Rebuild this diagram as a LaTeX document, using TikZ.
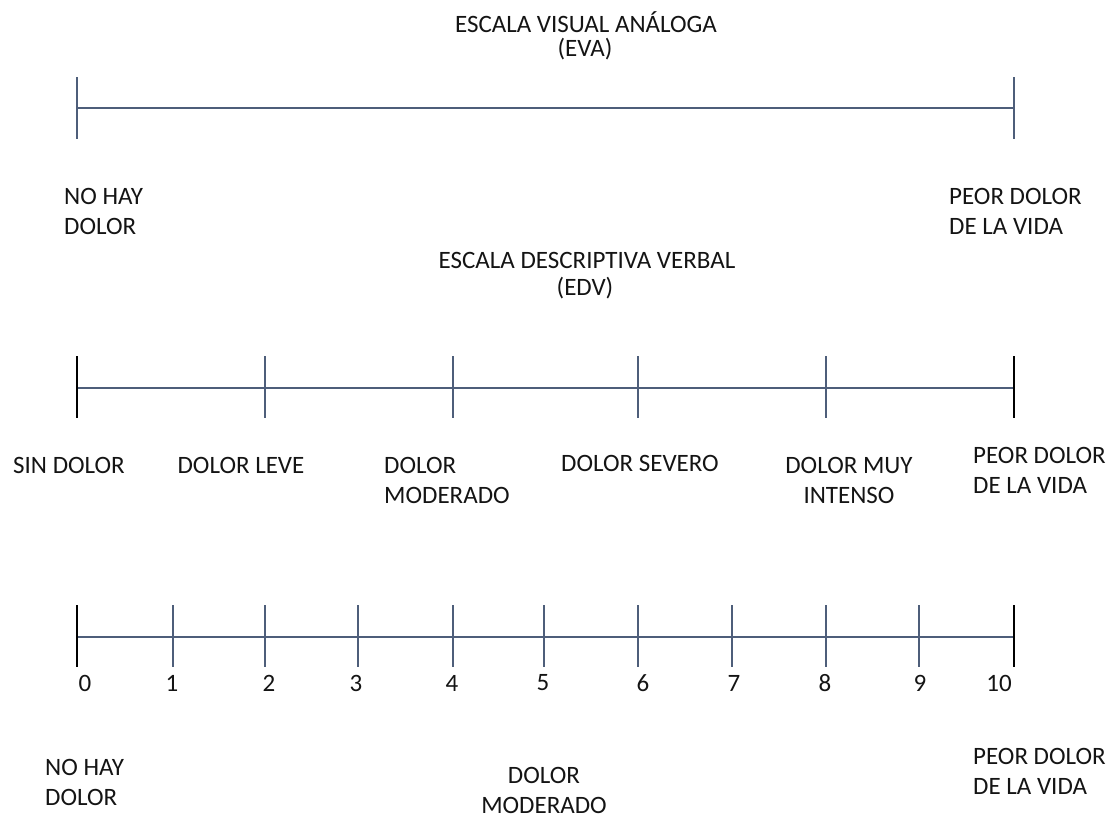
\documentclass[tikz,border=0pt]{standalone}
\usepackage{fontspec}
\setmainfont{Carlito}
\definecolor{axis}{RGB}{78,94,122}
\definecolor{txt}{RGB}{20,20,20}
\begin{document}
\begin{tikzpicture}[x=1pt,y=-1pt,
  lbl/.style={font=\fontsize{25}{30}\selectfont, text=txt, inner sep=0pt},
  axisline/.style={draw=axis, line width=1.6pt},
  tickmark/.style={draw=axis, line width=1.8pt},
  endtick/.style={draw=black, line width=1.8pt}]
\useasboundingbox (0,0) rectangle (1114,819);

% ---------- EVA ----------
\node[lbl] (t1) at (586,22) {ESCALA VISUAL ANÁLOGA};
\node[lbl] (t1b) at (585,49) {(EVA)};
\coordinate (a0) at (77,108);
\coordinate (a1) at (1014,108);
\draw[axisline] (a0) -- (a1);
\draw[tickmark] (a0) ++(0,-31) -- ++(0,62);
\draw[tickmark] (a1) ++(0,-31) -- ++(0,62);
\node[lbl, anchor=west, align=left] (e0) at (64,211) {NO HAY\\DOLOR};
\node[lbl, anchor=west, align=left] (e1) at (949,211) {PEOR DOLOR\\DE LA VIDA};

% ---------- EDV ----------
\node[lbl] (t2) at (587,260) {ESCALA DESCRIPTIVA VERBAL};
\node[lbl] (t2b) at (585,288) {(EDV)};
\coordinate (b0) at (77,388);
\coordinate (b1) at (265,388);
\coordinate (b2) at (453,388);
\coordinate (b3) at (638,388);
\coordinate (b4) at (826,388);
\coordinate (b5) at (1014,388);
\draw[axisline] (b0) -- (b5);
\foreach \p in {b1,b2,b3,b4} \draw[tickmark] (\p) ++(0,-32) -- ++(0,62);
\draw[endtick] (b0) ++(0,-32) -- ++(0,62);
\draw[endtick] (b5) ++(0,-32) -- ++(0,62);
\node[lbl] (d0) at (69,465) {SIN DOLOR};
\node[lbl] (d1) at (241,465) {DOLOR LEVE};
\node[lbl, anchor=west, align=left] (d2) at (384,480) {DOLOR\\MODERADO};
\node[lbl] (d3) at (640,463) {DOLOR SEVERO};
\node[lbl, align=center] (d4) at (849,480) {DOLOR MUY\\INTENSO};
\node[lbl, anchor=west, align=left] (d5) at (973,470) {PEOR DOLOR\\DE LA VIDA};

% ---------- Numerica ----------
\coordinate (c0) at (77,637);
\coordinate (c1) at (173,637);
\coordinate (c2) at (265,637);
\coordinate (c3) at (358,637);
\coordinate (c4) at (453,637);
\coordinate (c5) at (544,637);
\coordinate (c6) at (638,637);
\coordinate (c7) at (732,637);
\coordinate (c8) at (826,637);
\coordinate (c9) at (919,637);
\coordinate (c10) at (1014,637);
\draw[axisline] (c0) -- (c10);
\foreach \p in {c1,c2,c3,c4,c5,c6,c7,c8,c9} \draw[tickmark] (\p) ++(0,-32) -- ++(0,62);
\draw[endtick] (c0) ++(0,-32) -- ++(0,62);
\draw[endtick] (c10) ++(0,-32) -- ++(0,62);
\node[lbl] (n0) at (85,683) {0};
\node[lbl] (n1) at (172,683) {1};
\node[lbl] (n2) at (269,683) {2};
\node[lbl] (n3) at (356,683) {3};
\node[lbl] (n4) at (452,683) {4};
\node[lbl] (n5) at (543,683) {5};
\node[lbl] (n6) at (643,683) {6};
\node[lbl] (n7) at (734,683) {7};
\node[lbl] (n8) at (825,683) {8};
\node[lbl] (n9) at (920,683) {9};
\node[lbl] (n10) at (999,683) {10};
\node[lbl, anchor=west, align=left] (f0) at (45,782) {NO HAY\\DOLOR};
\node[lbl, align=center] (f1) at (544,790) {DOLOR\\MODERADO};
\node[lbl, anchor=west, align=left] (f2) at (973,771) {PEOR DOLOR\\DE LA VIDA};
\end{tikzpicture}
\end{document}
